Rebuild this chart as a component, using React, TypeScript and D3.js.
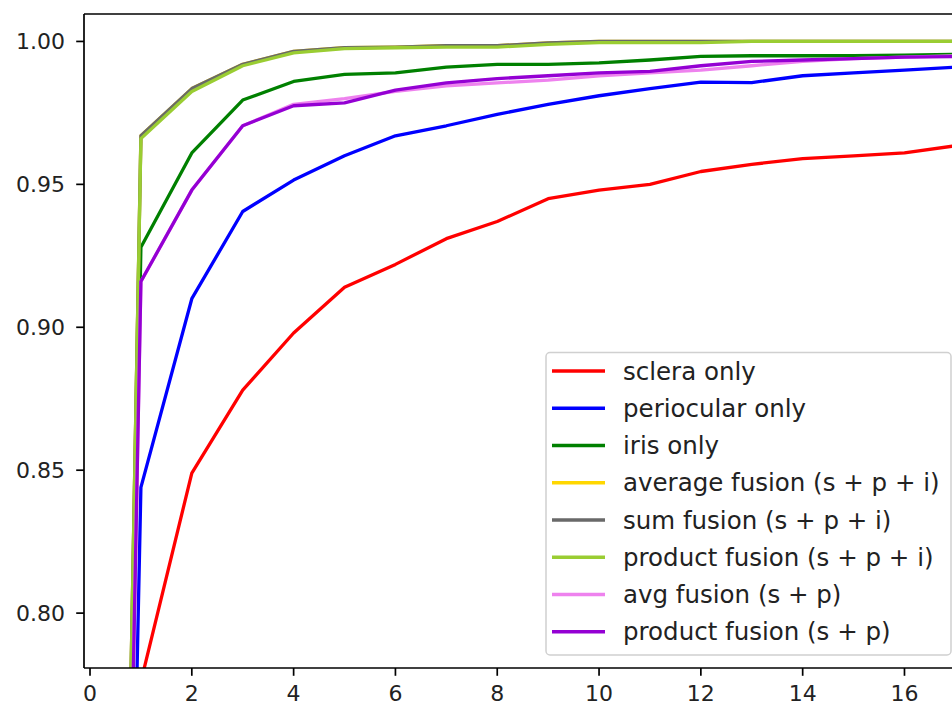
import React, { useEffect, useRef } from 'react';
import * as d3 from 'd3';

// rank axis (CMC curve)
const ranks = [0, 1, 2, 3, 4, 5, 6, 7, 8, 9, 10, 11, 12, 13, 14, 15, 16, 17];

const sclera = [0, 0.776, 0.849, 0.878, 0.898, 0.914, 0.922, 0.931, 0.937, 0.945, 0.948, 0.950, 0.9545, 0.957, 0.959, 0.960, 0.961, 0.9635];
const periocular = [0, 0.844, 0.910, 0.9405, 0.9515, 0.960, 0.967, 0.9705, 0.9745, 0.978, 0.981, 0.9835, 0.9858, 0.9856, 0.988, 0.989, 0.990, 0.991];
const iris = [0, 0.928, 0.961, 0.9795, 0.986, 0.9885, 0.989, 0.991, 0.992, 0.992, 0.9925, 0.9935, 0.9948, 0.995, 0.995, 0.995, 0.9952, 0.9955];
const avgSPI = [0, 0.967, 0.9835, 0.992, 0.9965, 0.9978, 0.998, 0.9985, 0.9985, 0.9995, 1, 1, 1, 1, 1, 1, 1, 1];
const sumSPI = [0, 0.967, 0.9835, 0.992, 0.9965, 0.9978, 0.998, 0.9985, 0.9985, 0.9995, 1, 1, 1, 1, 1, 1, 1, 1];
const prodSPI = [0, 0.966, 0.9825, 0.9915, 0.996, 0.9975, 0.9978, 0.998, 0.998, 0.999, 0.9996, 0.9996, 0.9996, 1, 1, 1, 1, 1];
const avgSP = [0, 0.916, 0.948, 0.9705, 0.978, 0.980, 0.9825, 0.9845, 0.9855, 0.9865, 0.988, 0.989, 0.990, 0.9915, 0.993, 0.994, 0.9945, 0.995];
const prodSP = [0, 0.916, 0.948, 0.9705, 0.9775, 0.9785, 0.983, 0.9855, 0.987, 0.988, 0.989, 0.9895, 0.9915, 0.993, 0.9935, 0.994, 0.9945, 0.9947];

const seriesNames = [
  'sclera only',
  'periocular only',
  'iris only',
  'average fusion (s + p + i)',
  'sum fusion (s + p + i)',
  'product fusion (s + p + i)',
  'avg fusion (s + p)',
  'product fusion (s + p)',
];
const seriesValues = [sclera, periocular, iris, avgSPI, sumSPI, prodSPI, avgSP, prodSP];
const seriesColors = ['#ff0000', '#0000ff', '#008000', '#ffd700', '#696969', '#9acd32', '#ee82ee', '#9400d3'];

const xTicks = [0, 2, 4, 6, 8, 10, 12, 14, 16];
const yTicks = [0.8, 0.85, 0.9, 0.95, 1.0];

const W = 952;
const H = 705;

const App = () => {
  const ref = useRef<SVGSVGElement | null>(null);

  useEffect(() => {
    if (!ref.current) return;
    const svg = d3.select(ref.current);
    svg.selectAll('*').remove();

    const left = 84, right = 962, top = 14, bottom = 668;
    const x = d3.scaleLinear().domain([-0.118, 17.13]).range([left, right]);
    const y = d3.scaleLinear().domain([0.7808, 1.0096]).range([bottom, top]);
    const font = '"DejaVu Sans", sans-serif';

    svg.append('rect').attr('width', W).attr('height', H).attr('fill', '#fff');

    svg.append('clipPath').attr('id', 'plot-clip')
      .append('rect')
      .attr('x', left).attr('y', top)
      .attr('width', right - left).attr('height', bottom - top);

    const line = d3.line<number>()
      .x((d, i) => x(ranks[i]))
      .y(d => y(d));

    const lines = svg.append('g').attr('clip-path', 'url(#plot-clip)');
    seriesValues.forEach((vals, i) => {
      lines.append('path')
        .attr('d', line(vals))
        .attr('fill', 'none')
        .attr('stroke', seriesColors[i])
        .attr('stroke-width', 3.3)
        .attr('stroke-linejoin', 'round')
        .attr('stroke-linecap', 'square');
    });

    // spines
    const ax = svg.append('g').attr('stroke', '#000').attr('stroke-width', 1.7);
    ax.append('line').attr('x1', left).attr('x2', left).attr('y1', top).attr('y2', bottom);
    ax.append('line').attr('x1', left).attr('x2', right).attr('y1', bottom).attr('y2', bottom);
    ax.append('line').attr('x1', left).attr('x2', right).attr('y1', top).attr('y2', top);

    // x ticks
    const xg = svg.append('g');
    xTicks.forEach(t => {
      xg.append('line')
        .attr('x1', x(t)).attr('x2', x(t))
        .attr('y1', bottom).attr('y2', bottom + 7.8)
        .attr('stroke', '#000').attr('stroke-width', 1.7);
      xg.append('text')
        .attr('x', x(t)).attr('y', 701)
        .attr('text-anchor', 'middle')
        .attr('font-family', font).attr('font-size', 22)
        .attr('fill', '#222')
        .text(String(t));
    });

    // y ticks
    const yg = svg.append('g');
    yTicks.forEach(t => {
      yg.append('line')
        .attr('x1', left - 7.8).attr('x2', left)
        .attr('y1', y(t)).attr('y2', y(t))
        .attr('stroke', '#000').attr('stroke-width', 1.7);
      yg.append('text')
        .attr('x', left - 19).attr('y', y(t) + 8)
        .attr('text-anchor', 'end')
        .attr('font-family', font).attr('font-size', 22)
        .attr('fill', '#222')
        .text(t.toFixed(2));
    });

    // legend
    const lg = svg.append('g');
    lg.append('rect')
      .attr('x', 546).attr('y', 352.5)
      .attr('width', 405).attr('height', 302.5)
      .attr('rx', 4)
      .attr('fill', 'rgba(255,255,255,0.8)')
      .attr('stroke', '#d0d0d0').attr('stroke-width', 1.5);
    seriesNames.forEach((name, i) => {
      const cy = 371 + i * 37.25;
      lg.append('line')
        .attr('x1', 552).attr('x2', 605)
        .attr('y1', cy).attr('y2', cy)
        .attr('stroke', seriesColors[i]).attr('stroke-width', 3.3);
      lg.append('text')
        .attr('x', 623).attr('y', cy + 8.5)
        .attr('font-family', font).attr('font-size', 24.5)
        .attr('fill', '#222')
        .text(name);
    });
  }, []);

  return (
    <div style={{ position: 'fixed', top: 0, left: 0, width: W, height: H, overflow: 'hidden', background: '#fff' }}>
      <svg ref={ref} width={W} height={H} />
    </div>
  );
};

export default App;
